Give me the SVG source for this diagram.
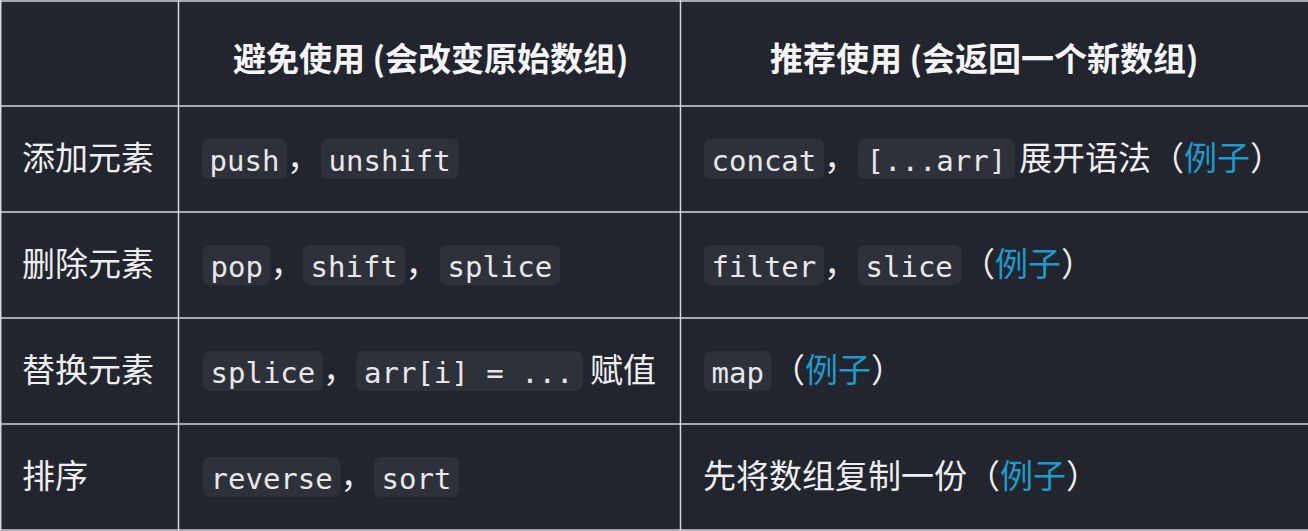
<svg xmlns="http://www.w3.org/2000/svg" width="1308" height="531" viewBox="0 0 1308 531">
<style>
.bg{fill:#22252e}
.grid line{stroke:#d4d6db;stroke-width:1.5}
.cb{fill:#2e313a}
.code{font-family:"DejaVu Sans Mono","Liberation Mono",monospace;font-size:29px;fill:#e8e8ea}
.t{font-family:"Noto Sans CJK SC","Noto Sans",sans-serif;font-size:33px;fill:#eeeef0}
.h{font-family:"Noto Sans CJK SC","Noto Sans",sans-serif;font-size:33px;font-weight:700;fill:#f5f5f7}
.lk{fill:#1d9bcc}
</style>
<rect class="bg" x="0" y="0" width="1308" height="531"/>
<g id="grid" class="grid">
<line x1="0" y1="1" x2="1308" y2="1"/>
<line x1="0" y1="106" x2="1308" y2="106"/>
<line x1="0" y1="212" x2="1308" y2="212"/>
<line x1="0" y1="318" x2="1308" y2="318"/>
<line x1="0" y1="424" x2="1308" y2="424"/>
<line x1="0" y1="530" x2="1308" y2="530"/>
<line x1="0.75" y1="0" x2="0.75" y2="531"/>
<line x1="178.5" y1="0" x2="178.5" y2="531"/>
<line x1="680.5" y1="0" x2="680.5" y2="531"/>
</g>
<g id="header">
<text class="h" x="233" y="71">避免使用 (会改变原始数组)</text>
<text class="h" x="770" y="71">推荐使用 (会返回一个新数组)</text>
</g>
<g id="row-add">
<text class="t" x="22" y="170">添加元素</text>
<rect class="cb" x="202" y="139" width="85" height="40" rx="7"/>
<text class="code" x="209.5" y="171">push</text>
<text class="t" x="287" y="170">，</text>
<rect class="cb" x="321" y="139" width="137.5" height="40" rx="7"/>
<text class="code" x="328.5" y="171">unshift</text>
<rect class="cb" x="704" y="139" width="120" height="40" rx="7"/>
<text class="code" x="711.5" y="171">concat</text>
<text class="t" x="824" y="170">，</text>
<rect class="cb" x="858" y="139" width="157" height="40" rx="7"/>
<text class="code" x="866.5" y="171">[...arr]</text>
<text class="t" x="1019" y="170">展开语法（<tspan class="lk">例子</tspan>）</text>
</g>
<g id="row-delete">
<text class="t" x="22" y="276">删除元素</text>
<rect class="cb" x="203" y="245" width="67.5" height="40" rx="7"/>
<text class="code" x="210.5" y="277">pop</text>
<text class="t" x="270.5" y="276">，</text>
<rect class="cb" x="303" y="245" width="102.5" height="40" rx="7"/>
<text class="code" x="310.5" y="277">shift</text>
<text class="t" x="405.5" y="276">，</text>
<rect class="cb" x="440" y="245" width="120" height="40" rx="7"/>
<text class="code" x="447.5" y="277">splice</text>
<rect class="cb" x="704" y="245" width="120" height="40" rx="7"/>
<text class="code" x="711.5" y="277">filter</text>
<text class="t" x="824" y="276">，</text>
<rect class="cb" x="858" y="245" width="103.5" height="40" rx="7"/>
<text class="code" x="865.5" y="277">slice</text>
<text class="t" x="962" y="276">（<tspan class="lk">例子</tspan>）</text>
</g>
<g id="row-replace">
<text class="t" x="22" y="382">替换元素</text>
<rect class="cb" x="203" y="351" width="120" height="40" rx="7"/>
<text class="code" x="210.5" y="383">splice</text>
<text class="t" x="323" y="382">，</text>
<rect class="cb" x="356" y="351" width="227" height="40" rx="7"/>
<text class="code" x="364" y="383" xml:space="preserve">arr[i] = ...</text>
<text class="t" x="590" y="382">赋值</text>
<rect class="cb" x="704" y="351" width="67.5" height="40" rx="7"/>
<text class="code" x="711.5" y="383">map</text>
<text class="t" x="772" y="382">（<tspan class="lk">例子</tspan>）</text>
</g>
<g id="row-sort">
<text class="t" x="22" y="488">排序</text>
<rect class="cb" x="203" y="457" width="137.5" height="40" rx="7"/>
<text class="code" x="210.5" y="489">reverse</text>
<text class="t" x="340.5" y="488">，</text>
<rect class="cb" x="374" y="457" width="85" height="40" rx="7"/>
<text class="code" x="381.5" y="489">sort</text>
<text class="t" x="703" y="488">先将数组复制一份（<tspan class="lk">例子</tspan>）</text>
</g>
</svg>
